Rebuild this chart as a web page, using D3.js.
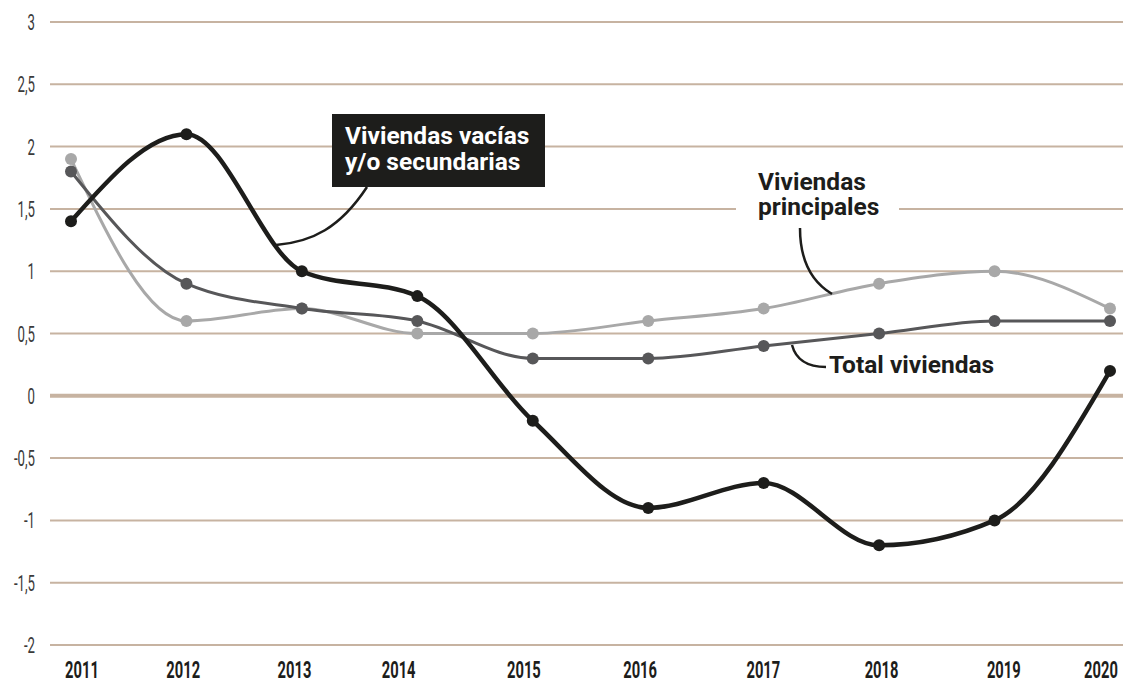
<!DOCTYPE html>
<html lang="es">
<head>
  <meta charset="UTF-8">
  <title>Variación de viviendas</title>
  <script src="https://d3js.org/d3.v7.min.js"></script>
  <style>
    body { margin: 0; background: #fff; }
    svg { display: block; }
    .tick-y { font-family: Roboto, sans-serif; font-weight: 400; font-size: 22px; fill: #3a3a3a; }
    .tick-x { font-family: Roboto, sans-serif; font-size: 23px; font-weight: bold; fill: #1d1d1b; }
    .label { font-family: Roboto, "Noto Sans", sans-serif; font-weight: 700; font-size: 24.5px; }
  </style>
</head>
<body>
  <svg id="chart" width="1123" height="679"></svg>
  <script>
    // Data
    const years = [2011, 2012, 2013, 2014, 2015, 2016, 2017, 2018, 2019, 2020];
    const totalViviendas = [1.8, 0.9, 0.7, 0.6, 0.3, 0.3, 0.4, 0.5, 0.6, 0.6];
    const viviendasPrincipales = [1.9, 0.6, 0.7, 0.5, 0.5, 0.6, 0.7, 0.9, 1.0, 0.7];
    const viviendasVacias = [1.4, 2.1, 1.0, 0.8, -0.2, -0.9, -0.7, -1.2, -1.0, 0.2];
    const yTicks = [3, 2.5, 2, 1.5, 1, 0.5, 0, -0.5, -1, -1.5, -2];

    const svg = d3.select("#chart");
    const W = 1123;

    const x = d3.scalePoint().domain(years).range([71, 1110]);
    const y = d3.scaleLinear().domain([-2, 3]).range([645, 22]);
    const fmt = v => String(v).replace(".", ",");

    // Gridlines
    svg.append("g")
      .selectAll("line")
      .data(yTicks)
      .join("line")
      .attr("x1", 50).attr("x2", W)
      .attr("y1", d => y(d)).attr("y2", d => y(d))
      .attr("stroke", "#c7b3a1")
      .attr("stroke-width", d => d === 0 ? 4 : 2);

    // Y tick labels (condensed with a horizontal squeeze)
    svg.append("g")
      .selectAll("text")
      .data(yTicks)
      .join("text")
      .attr("class", "tick-y")
      .attr("transform", d => `translate(35,${y(d) + 8}) scale(0.6,1)`)
      .attr("text-anchor", "end")
      .text(fmt);

    // X tick labels: the year labels are laid out on their own row, a little off the points
    const xLabel = d3.scalePoint().domain(years).range([82, 1101]);
    const labelNudge = [0, -12, -14, -23, -11, -8, 2, 7, 16, 0];
    svg.append("g")
      .selectAll("text")
      .data(years)
      .join("text")
      .attr("class", "tick-x")
      .attr("transform", (d, i) => `translate(${xLabel(d) + labelNudge[i]},678) scale(0.64,1)`)
      .attr("text-anchor", "middle")
      .text(d => d);

    // White gap for "Viviendas principales" label over gridline
    svg.append("rect")
      .attr("x", 736).attr("y", y(1.5) - 3)
      .attr("width", 163).attr("height", 6)
      .attr("fill", "#fff");

    const line = d3.line()
      .x((d, i) => x(years[i]))
      .y(d => y(d))
      .curve(d3.curveMonotoneX);

    const series = [
      { values: viviendasPrincipales, color: "#a8a8a8", width: 3, r: 6 },
      { values: totalViviendas, color: "#575759", width: 3, r: 6 },
      { values: viviendasVacias, color: "#1d1d1b", width: 4.5, r: 6 }
    ];

    series.forEach(s => {
      svg.append("path")
        .datum(s.values)
        .attr("d", line)
        .attr("fill", "none")
        .attr("stroke", s.color)
        .attr("stroke-width", s.width);
      svg.append("g")
        .selectAll("circle")
        .data(s.values)
        .join("circle")
        .attr("cx", (d, i) => x(years[i]))
        .attr("cy", d => y(d))
        .attr("r", s.r)
        .attr("fill", s.color);
    });

    // Annotations
    const lead = (d) => svg.append("path").attr("d", d)
      .attr("fill", "none").attr("stroke", "#1d1d1b").attr("stroke-width", 2.5);

    // Viviendas vacías box
    lead("M367,187 C340,228 312,242 276,245");
    svg.append("rect")
      .attr("x", 332).attr("y", 114)
      .attr("width", 213).attr("height", 73)
      .attr("fill", "#1d1d1b");
    const tv = svg.append("text").attr("class", "label").attr("fill", "#fff");
    tv.append("tspan").attr("x", 345).attr("y", 144).text("Viviendas vacías");
    tv.append("tspan").attr("x", 345).attr("y", 170).text("y/o secundarias");

    // Viviendas principales
    lead("M800,228 C800,262 812,282 832,294");
    const tp = svg.append("text").attr("class", "label").attr("fill", "#1d1d1b");
    tp.append("tspan").attr("x", 758).attr("y", 190).text("Viviendas");
    tp.append("tspan").attr("x", 758).attr("y", 215).text("principales");

    // Total viviendas
    lead("M792,345 C796,360 808,367 826,367");
    svg.append("text").attr("class", "label").attr("fill", "#1d1d1b")
      .attr("x", 829).attr("y", 373).text("Total viviendas");
  </script>
</body>
</html>
